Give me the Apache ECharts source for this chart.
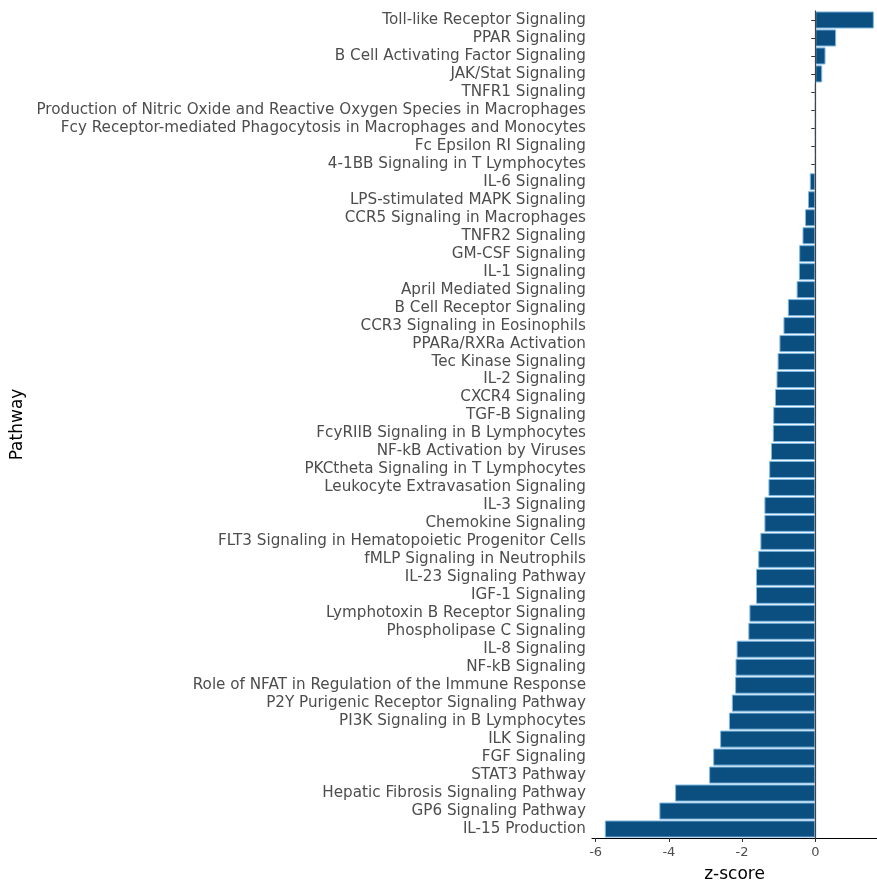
<!DOCTYPE html>
<html>
<head>
<meta charset="utf-8">
<script src="https://cdn.jsdelivr.net/npm/echarts@6/dist/echarts.min.js"></script>
<style>html,body{margin:0;padding:0;background:#fff;overflow:hidden}#c{width:877px;height:884px}</style>
</head>
<body>
<div id="c"></div>
<script>
const pathways = [
  "Toll-like Receptor Signaling",
  "PPAR Signaling",
  "B Cell Activating Factor Signaling",
  "JAK/Stat Signaling",
  "TNFR1 Signaling",
  "Production of Nitric Oxide and Reactive Oxygen Species in Macrophages",
  "Fcy Receptor-mediated Phagocytosis in Macrophages and Monocytes",
  "Fc Epsilon RI Signaling",
  "4-1BB Signaling in T Lymphocytes",
  "IL-6 Signaling",
  "LPS-stimulated MAPK Signaling",
  "CCR5 Signaling in Macrophages",
  "TNFR2 Signaling",
  "GM-CSF Signaling",
  "IL-1 Signaling",
  "April Mediated Signaling",
  "B Cell Receptor Signaling",
  "CCR3 Signaling in Eosinophils",
  "PPARa/RXRa Activation",
  "Tec Kinase Signaling",
  "IL-2 Signaling",
  "CXCR4 Signaling",
  "TGF-B Signaling",
  "FcyRIIB Signaling in B Lymphocytes",
  "NF-kB Activation by Viruses",
  "PKCtheta Signaling in T Lymphocytes",
  "Leukocyte Extravasation Signaling",
  "IL-3 Signaling",
  "Chemokine Signaling",
  "FLT3 Signaling in Hematopoietic Progenitor Cells",
  "fMLP Signaling in Neutrophils",
  "IL-23 Signaling Pathway",
  "IGF-1 Signaling",
  "Lymphotoxin B Receptor Signaling",
  "Phospholipase C Signaling",
  "IL-8 Signaling",
  "NF-kB Signaling",
  "Role of NFAT in Regulation of the Immune Response",
  "P2Y Purigenic Receptor Signaling Pathway",
  "PI3K Signaling in B Lymphocytes",
  "ILK Signaling",
  "FGF Signaling",
  "STAT3 Pathway",
  "Hepatic Fibrosis Signaling Pathway",
  "GP6 Signaling Pathway",
  "IL-15 Production"
];
const zScores = [
  1.6, 0.57, 0.28, 0.19, 0, 0, 0, 0, 0,
  -0.15, -0.2, -0.28, -0.35, -0.44, -0.45, -0.51,
  -0.75, -0.87, -0.98, -1.03, -1.06, -1.1,
  -1.15, -1.16, -1.21, -1.26, -1.28, -1.39, -1.39,
  -1.5, -1.56, -1.62, -1.62, -1.8, -1.83,
  -2.15, -2.18, -2.19, -2.28, -2.36, -2.6, -2.79, -2.9,
  -3.83, -4.26, -5.75
];
const xTicks = [-6, -4, -2, 0];
const xTickLabels = ["-6", "-4", "-2", "0"];

const chart = echarts.init(document.getElementById('c'), null, {renderer: 'canvas'});
const font = 'DejaVu Sans';
chart.setOption({
  animation: false,
  backgroundColor: '#ffffff',
  grid: {left: 592, right: 0, top: 11, bottom: 46, containLabel: false, outerBoundsMode: 'none'},
  xAxis: {
    type: 'value',
    min: -6.1,
    max: 1.686,
    name: 'z-score',
    nameLocation: 'middle',
    nameGap: 28,
    nameTextStyle: {fontFamily: font, fontSize: 17, color: '#000'},
    axisLine: {show: true, lineStyle: {color: '#000', width: 1}},
    axisTick: {show: true, length: 4, lineStyle: {color: '#333'}, customValues: xTicks},
    axisLabel: {
      fontFamily: font, fontSize: 13, color: '#4d4d4d', margin: 8,
      customValues: xTicks,
      formatter: v => xTickLabels[xTicks.indexOf(v)] ?? String(v)
    },
    splitLine: {show: false}
  },
  yAxis: {
    type: 'category',
    inverse: true,
    data: pathways,
    name: 'Pathway',
    nameLocation: 'middle',
    nameRotate: 90,
    nameGap: 566,
    nameTextStyle: {fontFamily: font, fontSize: 17, color: '#000'},
    axisLine: {show: true, lineStyle: {color: '#000', width: 1}},
    axisTick: {show: true, length: 4, alignWithLabel: true, lineStyle: {color: '#333'}},
    axisLabel: {fontFamily: font, fontSize: 15.2, color: '#4d4d4d', margin: 6, interval: 0}
  },
  series: [{
    type: 'bar',
    data: zScores,
    barCategoryGap: '5%',
    itemStyle: {color: '#0b4f80', borderColor: '#7fb9e2', borderWidth: 1},
    markLine: {
      silent: true,
      symbol: ['none', 'none'],
      label: {show: false},
      lineStyle: {color: '#444', width: 1.2, type: 'solid'},
      data: [{xAxis: 0}]
    }
  }]
});
</script>
</body>
</html>
